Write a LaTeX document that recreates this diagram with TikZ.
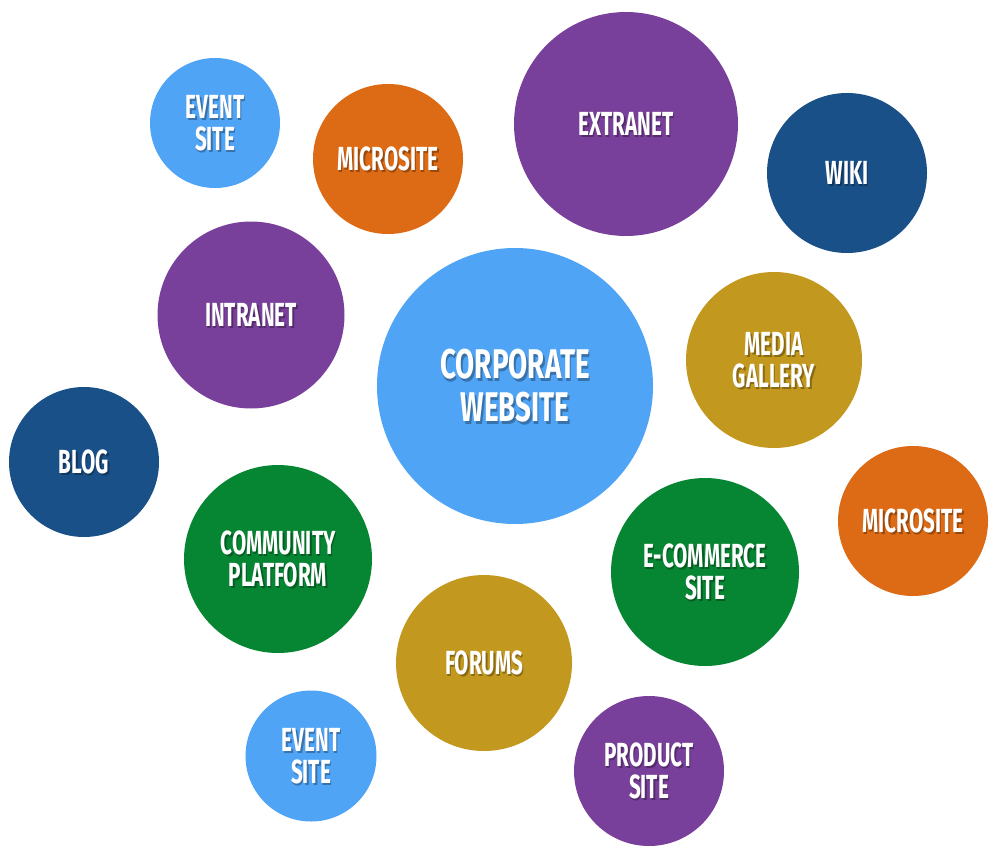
\documentclass[tikz,border=0pt]{standalone}
\usepackage{fontspec}
\newfontfamily\bubblefont[FakeStretch=0.62]{Fira Sans}
\newfontfamily\bigbubblefont[FakeStretch=0.67]{Fira Sans}
\usepackage{xcolor}
\usepackage{tikz}
\usetikzlibrary{positioning,calc}

\definecolor{skyblue}{RGB}{80,164,245}
\definecolor{siteorange}{RGB}{221,106,20}
\definecolor{sitepurple}{RGB}{121,64,155}
\definecolor{navyblue}{RGB}{26,80,136}
\definecolor{mustard}{RGB}{195,152,31}
\definecolor{leafgreen}{RGB}{6,133,50}

\tikzset{
    bubble/.style={circle, fill=#1, draw=none, inner sep=0pt},
    label text/.style={text=white, align=center, inner sep=0pt,
        font=\bubblefont\bfseries\fontsize{33.4}{32}\selectfont},
    big text/.style={label text, font=\bigbubblefont\bfseries\fontsize{41.5}{43}\selectfont},
    shade/.style={text=black, opacity=0.3}
}

\begin{document}
\begin{tikzpicture}[x=1pt, y=-1pt]
    \useasboundingbox (0,0) rectangle (1003,861);

    % Top row
    \node[bubble=skyblue, minimum size=130] (eventtop) at (215,123) {};
    \node[label text, shade] at ([shift={(1.5,2)}]eventtop.center) {EVENT\\SITE};
    \node[label text] (eventtop-t) at (eventtop) {EVENT\\SITE};

    \node[bubble=siteorange, minimum size=150] (microtop) at (388,159) {};
    \node[label text, shade] at ([shift={(1.5,2)}]microtop.center) {MICROSITE};
    \node[label text] (microtop-t) at (microtop) {MICROSITE};

    \node[bubble=sitepurple, minimum size=224] (extranet) at (626,124) {};
    \node[label text, shade] at ([shift={(1.5,2)}]extranet.center) {EXTRANET};
    \node[label text] (extranet-t) at (extranet) {EXTRANET};

    \node[bubble=navyblue, minimum size=160] (wiki) at (847,173) {};
    \node[label text, shade] at ([shift={(1.5,2)}]wiki.center) {WIKI};
    \node[label text] (wiki-t) at (wiki) {WIKI};

    % Middle: the main site and its neighbours
    \node[bubble=sitepurple, minimum size=187] (intranet) at (251,315) {};
    \node[label text, shade] at ([shift={(1.5,2)}]intranet.center) {INTRANET};
    \node[label text] (intranet-t) at (intranet) {INTRANET};

    \node[bubble=skyblue, minimum size=276] (corporate) at (515,386) {};
    \node[big text, shade] at ([shift={(1.5,2.5)}]corporate.center) {CORPORATE\\WEBSITE};
    \node[big text] (corporate-t) at (corporate) {CORPORATE\\WEBSITE};

    \node[bubble=mustard, minimum size=176] (media) at (774,360) {};
    \node[label text, shade] at ([shift={(1.5,2)}]media.center) {MEDIA\\GALLERY};
    \node[label text] (media-t) at (media) {MEDIA\\GALLERY};

    \node[bubble=navyblue, minimum size=150] (blog) at (84,462) {};
    \node[label text, shade] at ([shift={(1.5,2)}]blog.center) {BLOG};
    \node[label text] (blog-t) at (blog) {BLOG};

    \node[bubble=siteorange, minimum size=150] (microright) at (913,521) {};
    \node[label text, shade] at ([shift={(1.5,2)}]microright.center) {MICROSITE};
    \node[label text] (microright-t) at (microright) {MICROSITE};

    % Bottom rows
    \node[bubble=leafgreen, minimum size=188] (community) at (278,559) {};
    \node[label text, shade] at ([shift={(1.5,2)}]community.center) {COMMUNITY\\PLATFORM};
    \node[label text] (community-t) at (community) {COMMUNITY\\PLATFORM};

    \node[bubble=leafgreen, minimum size=188] (ecommerce) at (705,572) {};
    \node[label text, shade] at ([shift={(1.5,2)}]ecommerce.center) {E-COMMERCE\\SITE};
    \node[label text] (ecommerce-t) at (ecommerce) {E-COMMERCE\\SITE};

    \node[bubble=mustard, minimum size=176] (forums) at (484,663) {};
    \node[label text, shade] at ([shift={(1.5,2)}]forums.center) {FORUMS};
    \node[label text] (forums-t) at (forums) {FORUMS};

    \node[bubble=skyblue, minimum size=131] (eventbottom) at (311,756) {};
    \node[label text, shade] at ([shift={(1.5,2)}]eventbottom.center) {EVENT\\SITE};
    \node[label text] (eventbottom-t) at (eventbottom) {EVENT\\SITE};

    \node[bubble=sitepurple, minimum size=150] (product) at (649,771) {};
    \node[label text, shade] at ([shift={(1.5,2)}]product.center) {PRODUCT\\SITE};
    \node[label text] (product-t) at (product) {PRODUCT\\SITE};
\end{tikzpicture}
\end{document}
